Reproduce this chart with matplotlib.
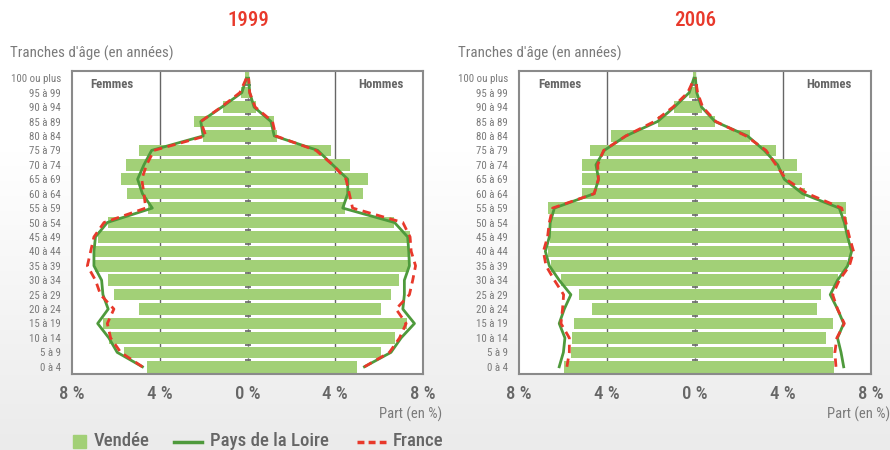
import numpy as np
import matplotlib.pyplot as plt
import matplotlib.font_manager as fm
from matplotlib.colors import LinearSegmentedColormap

# police etroite si disponible
noms = {f.name for f in fm.fontManager.ttflist}
police = 'Roboto'
for p in ['Roboto Condensed', 'Liberation Sans Narrow', 'Open Sans Condensed', 'DejaVu Sans Condensed']:
    if p in noms:
        police = p
        break
plt.rcParams['font.family'] = [police, 'DejaVu Sans']
if police == 'Roboto' and any(f.name == 'Roboto' and f.stretch == 'condensed' for f in fm.fontManager.ttflist):
    plt.rcParams['font.stretch'] = 'condensed'

ages = ['0 à 4', '5 à 9', '10 à 14', '15 à 19', '20 à 24', '25 à 29', '30 à 34',
        '35 à 39', '40 à 44', '45 à 49', '50 à 54', '55 à 59', '60 à 64', '65 à 69',
        '70 à 74', '75 à 79', '80 à 84', '85 à 89', '90 à 94', '95 à 99', '100 ou plus']

# 1999 - femmes (en %)
vendee_f_1999 = [4.58, 5.63, 6.30, 6.59, 4.95, 6.09, 6.36, 6.96, 6.96, 6.82, 6.36,
                 4.54, 5.49, 5.77, 5.54, 4.95, 2.05, 2.42, 1.11, 0.30, 0.10]
loire_f_1999 = [4.79, 5.94, 6.32, 6.83, 6.35, 6.59, 6.65, 7.00, 7.00, 6.93, 6.39,
                4.34, 4.79, 5.01, 4.72, 4.37, 2.02, 2.13, 1.17, 0.26, 0.05]
france_f_1999 = [4.79, 5.78, 6.24, 6.39, 6.09, 6.70, 6.93, 7.30, 7.15, 7.00, 6.54,
                 4.64, 4.72, 4.82, 4.60, 4.26, 1.90, 2.13, 1.20, 0.35, 0.05]
# 1999 - hommes
vendee_h_1999 = [4.99, 6.09, 6.74, 7.26, 6.09, 6.54, 6.91, 7.35, 7.35, 7.41, 6.70,
                 4.44, 5.27, 5.51, 4.69, 3.80, 1.34, 1.19, 0.38, 0.10, 0.08]
loire_h_1999 = [5.33, 6.54, 7.00, 7.61, 7.08, 7.15, 7.15, 7.38, 7.35, 7.30, 6.70,
                4.34, 4.57, 4.57, 3.88, 3.20, 1.22, 1.07, 0.30, 0.10, 0.05]
france_h_1999 = [5.33, 6.47, 6.93, 7.23, 6.77, 7.38, 7.53, 7.66, 7.46, 7.41, 7.08,
                 4.79, 4.64, 4.49, 3.88, 3.12, 1.29, 1.14, 0.35, 0.10, 0.05]

# 2006 - femmes
vendee_f_2006 = [5.94, 5.62, 5.58, 5.52, 4.70, 5.29, 6.09, 6.55, 6.68, 6.58, 6.55,
                 6.68, 5.14, 5.14, 5.14, 4.77, 3.82, 1.68, 0.94, 0.26, 0.10]
loire_f_2006 = [6.17, 5.98, 5.91, 6.17, 5.94, 5.64, 6.17, 6.62, 6.80, 6.62, 6.58,
                6.39, 4.58, 4.38, 4.50, 4.12, 3.14, 1.70, 0.94, 0.26, 0.05]
france_f_2006 = [5.82, 5.71, 5.71, 6.09, 6.02, 5.97, 6.39, 6.77, 6.89, 6.70, 6.62,
                 6.47, 4.58, 4.39, 4.42, 4.15, 3.14, 1.85, 1.00, 0.33, 0.03]
# 2006 - hommes
vendee_h_2006 = [6.32, 6.27, 5.95, 6.27, 5.55, 5.73, 6.52, 6.91, 7.06, 6.97, 6.91,
                 6.86, 5.00, 4.86, 4.64, 3.70, 2.50, 0.91, 0.32, 0.12, 0.05]
loire_h_2006 = [6.76, 6.64, 6.48, 6.76, 6.48, 6.15, 6.48, 6.94, 7.12, 6.94, 6.79,
                6.56, 4.89, 4.06, 3.76, 3.15, 2.39, 0.91, 0.30, 0.08, 0.02]
france_h_2006 = [6.41, 6.36, 6.45, 6.79, 6.48, 6.26, 6.56, 7.02, 7.21, 7.02, 6.86,
                 6.67, 5.12, 4.14, 3.68, 3.23, 2.32, 0.95, 0.35, 0.12, 0.02]

bar_col = '#a2d077'
green = '#4e9a3c'
red = '#e8392b'
grey_txt = '#7a7a7a'
dark_txt = '#666666'

fig = plt.figure(figsize=(8.9, 4.5), dpi=100)

# fond en degradé
bg = fig.add_axes([0, 0, 1, 1], zorder=-10)
grad = np.concatenate([np.ones(150), np.linspace(1, 0, 300)])[:, None]
cmap = LinearSegmentedColormap.from_list('bg', ['#ebebeb', '#ffffff'])
bg.imshow(grad, aspect='auto', cmap=cmap, extent=[0, 1, 0, 1], vmin=0, vmax=1)
bg.axis('off')


def pyramide(ax, f, h, lf, lh, ff, fh):
    y = np.arange(len(ages))
    ax.barh(y, [-v for v in f], height=0.8, color=bar_col, zorder=2)
    ax.barh(y, h, height=0.8, color=bar_col, zorder=2)
    ax.plot([-v for v in lf], y, color=green, lw=2, zorder=3)
    ax.plot(lh, y, color=green, lw=2, zorder=3)
    ax.plot([-v for v in ff], y, color=red, lw=2, ls=(0, (3, 2)), zorder=4)
    ax.plot(fh, y, color=red, lw=2, ls=(0, (3, 2)), zorder=4)
    ax.axvline(0, color='#999999', lw=1, zorder=1)
    ax.axvline(-4, color='#666666', lw=1, zorder=1)
    ax.axvline(4, color='#666666', lw=1, zorder=1)
    ax.plot(np.zeros(len(ages) - 1), y[:-1] + 0.5, marker='_', ls='none',
            color='#666666', ms=5, mew=1.2, zorder=1)
    ax.set_xlim(-8, 8)
    ax.set_ylim(-0.5, len(ages) - 0.5)
    ax.set_yticks(y)
    ax.set_yticklabels(ages, fontsize=7.8, color=grey_txt)
    ax.set_xticks([-8, -4, 0, 4, 8])
    ax.set_xticklabels(['8 %', '4 %', '0 %', '4 %', '8 %'], fontsize=13.5,
                       color=dark_txt, fontweight='medium')
    ax.tick_params(length=0, pad=8)
    ax.tick_params(axis='x', pad=8)
    for s in ax.spines.values():
        s.set_color('#8a8a8a')
        s.set_linewidth(1.5)
    ax.text(0.115, 0.955, 'Femmes', transform=ax.transAxes, ha='center', va='center',
            fontsize=9.3, fontweight='bold', color=dark_txt)
    ax.text(0.88, 0.955, 'Hommes', transform=ax.transAxes, ha='center', va='center',
            fontsize=9.3, fontweight='bold', color=dark_txt)
    ax.text(1.0 + 19 / 351, -0.132, 'Part (en %)', transform=ax.transAxes, ha='right',
            va='center', fontsize=10.5, color=grey_txt)


ax1 = fig.add_axes([0.0809, 0.1689, 0.3944, 0.6733])
pyramide(ax1, vendee_f_1999, vendee_h_1999, loire_f_1999, loire_h_1999,
         france_f_1999, france_h_1999)
ax2 = fig.add_axes([0.5831, 0.1689, 0.3955, 0.6733])
pyramide(ax2, vendee_f_2006, vendee_h_2006, loire_f_2006, loire_h_2006,
         france_f_2006, france_h_2006)

fig.text(248 / 890, 1 - 20 / 450, '1999', ha='center', va='center', fontsize=15,
         fontweight='medium', color=red)
fig.text(695 / 890, 1 - 20 / 450, '2006', ha='center', va='center', fontsize=15,
         fontweight='medium', color=red)
fig.text(10 / 890, 1 - 53 / 450, "Tranches d'âge (en années)", ha='left', va='center',
         fontsize=10.8, color=grey_txt)
fig.text(458 / 890, 1 - 53 / 450, "Tranches d'âge (en années)", ha='left', va='center',
         fontsize=10.8, color=grey_txt)

# legende dessinee a la main (coordonnees figure en pixels)
W, H = 890, 450
ly = 1 - 441.5 / H
fig.patches.append(plt.Rectangle((73 / W, 1 - 448 / H), 13 / W, 13 / H, color=bar_col,
                                 transform=fig.transFigure, figure=fig))
fig.lines.append(plt.Line2D([174 / W, 202 / W], [ly, ly], color=green, lw=2.5,
                            transform=fig.transFigure, figure=fig))
fig.lines.append(plt.Line2D([357 / W, 386 / W], [ly, ly], color=red, lw=2.5,
                            ls=(0, (2, 1.2)), transform=fig.transFigure, figure=fig))
for x, lab in [(94, 'Vendée'), (210, 'Pays de la Loire'), (393, 'France')]:
    fig.text(x / W, ly, lab, ha='left', va='center', fontsize=13.5, color=dark_txt,
             fontweight='medium')

fig.savefig('out.png', dpi=100)
